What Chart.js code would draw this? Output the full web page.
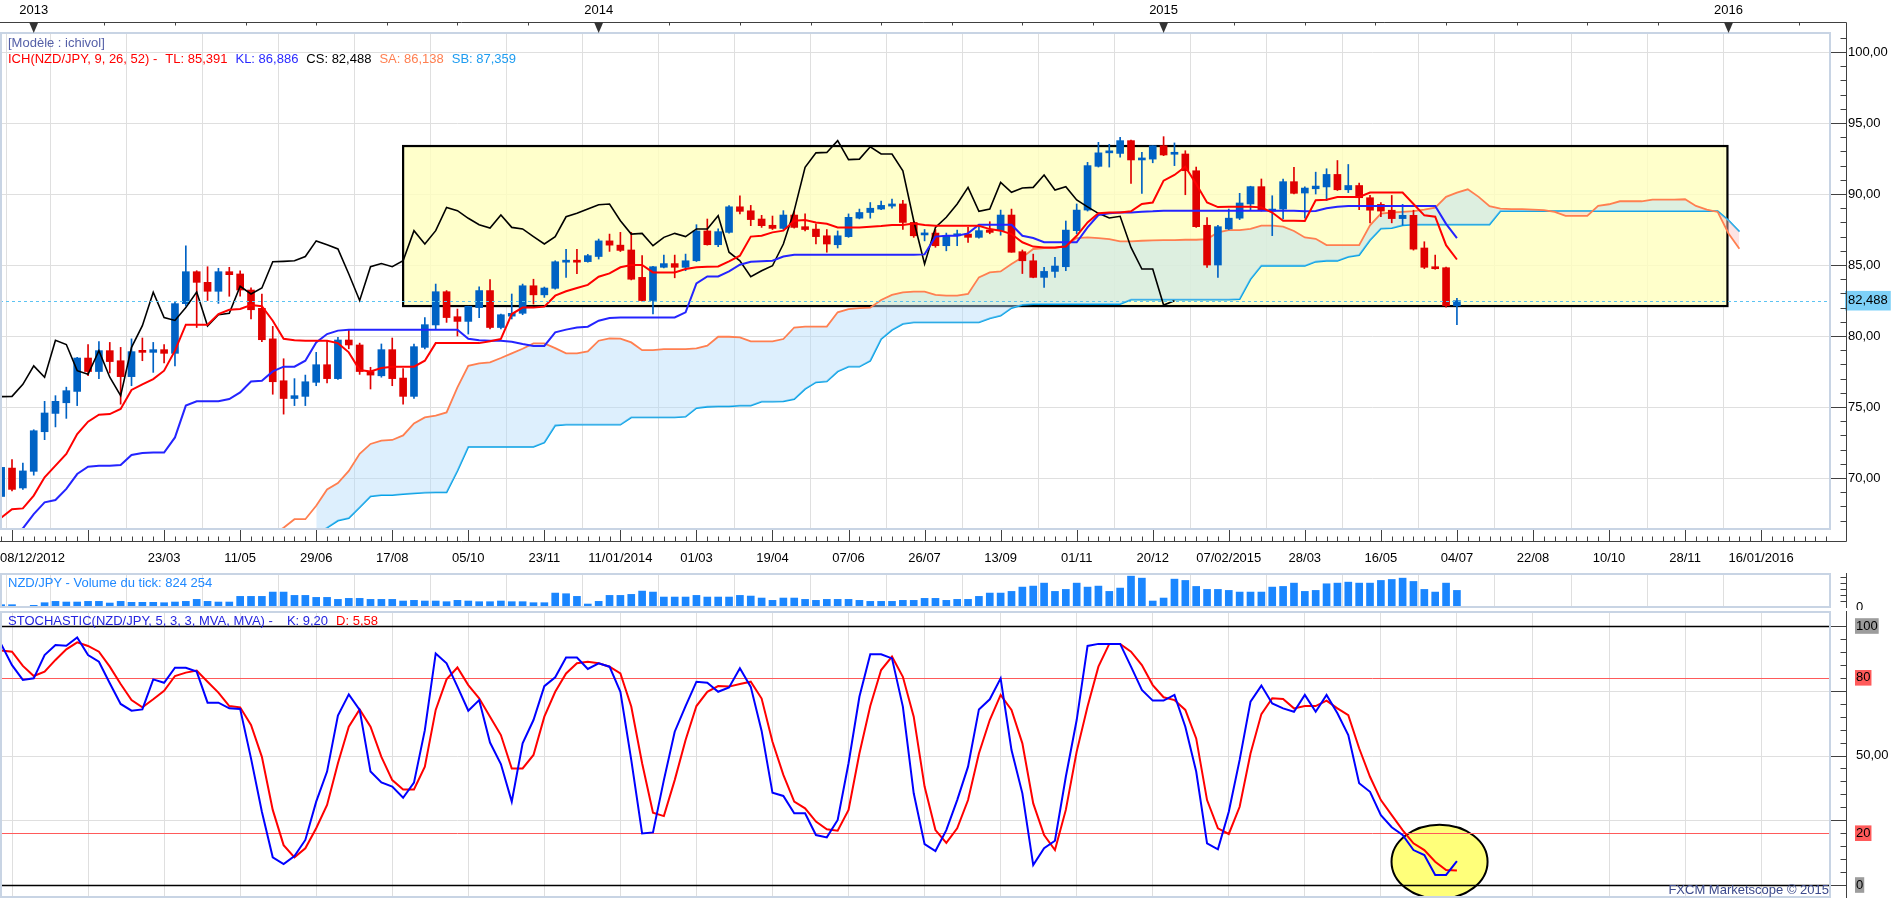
<!DOCTYPE html>
<html lang="fr">
<head>
<meta charset="utf-8">
<title>NZD/JPY hebdo - Ichimoku</title>
<script src="https://cdn.jsdelivr.net/npm/chart.js@4.4.1/dist/chart.umd.min.js"></script>
<style>
  html, body { margin: 0; padding: 0; background: #fff; }
  body { position: relative; width: 1903px; height: 900px; overflow: hidden;
         font-family: 'Liberation Sans', Arial, sans-serif; font-size: 13px; }
  .pane { position: absolute; left: 0; }
  .pane canvas { display: block; }
  .caption { position: absolute; left: 8px; line-height: 16px; white-space: pre; }
  .caption span + span { margin-left: 8px; }
  #copyright { left: auto; right: 74px; color: #3c4a8c; }
</style>
</head>
<body>
  <div class="pane" style="top:0"><canvas id="mainChart" width="1903" height="575"></canvas></div>
  <div class="pane" style="top:566px"><canvas id="volumeChart" width="1903" height="44"></canvas></div>
  <div class="pane" style="top:606px"><canvas id="stochChart" width="1903" height="294"></canvas></div>

  <div class="caption" style="top:35px;color:#5560a8">[Modèle : ichivol]</div>
  <div class="caption" style="top:51px"><span style="color:#ff0000">ICH(NZD/JPY, 9, 26, 52) -</span><span style="color:#ff0000">TL: 85,391</span><span style="color:#2a2aff">KL: 86,886</span><span style="color:#000">CS: 82,488</span><span style="color:#ff7f50">SA: 86,138</span><span style="color:#1e9cf0">SB: 87,359</span></div>
  <div class="caption" style="top:575px;color:#1e88ff">NZD/JPY - Volume du tick: 824 254</div>
  <div class="caption" style="top:613px"><span style="color:#2424e0">STOCHASTIC(NZD/JPY, 5, 3, 3, MVA, MVA) -</span><span style="color:#2424e0;margin-left:14px">K: 9,20</span><span style="color:#ff0000">D: 5,58</span></div>
  <div class="caption" id="copyright" style="top:882px">FXCM Marketscope © 2015</div>

<script>
// weekly bars, week 0 = 15/12/2012 (first grid line); the first candle is the week before
const firstWeek = -1;

const opens = [
  68.70, 70.70, 69.30, 70.47, 73.26, 74.55, 75.30, 76.10, 78.45, 77.50,
  78.97, 78.26, 77.14, 78.90, 78.85, 79.04, 78.78, 82.28, 84.53, 83.78,
  83.15, 84.53, 84.37, 83.24, 81.95, 79.80, 76.85, 75.60, 75.75, 76.74,
  77.98, 77.00, 79.72, 79.37, 77.50, 77.20, 79.04, 77.04, 75.75, 79.20,
  80.78, 83.12, 81.36, 81.03, 82.00, 83.20, 80.60, 81.40, 81.60, 83.54,
  82.90, 83.36, 85.20, 85.30, 85.24, 85.60, 86.70, 86.40, 86.06, 84.13,
  82.50, 84.84, 85.10, 84.84, 85.30, 87.40, 86.43, 87.30, 89.10, 88.82,
  88.24, 87.80, 87.58, 88.52, 87.70, 87.53, 87.06, 86.43, 87.00, 88.30,
  88.70, 88.94, 89.15, 89.30, 88.00, 87.12, 87.25, 86.36, 87.06, 87.18,
  86.95, 87.46, 87.42, 88.52, 85.94, 85.30, 84.13, 84.55, 84.88, 87.42,
  88.87, 91.95, 92.90, 92.86, 93.76, 92.40, 92.46, 93.40, 92.80, 92.82,
  91.64, 87.80, 85.00, 87.54, 88.30, 89.30, 90.52, 88.80, 88.94, 90.87,
  90.07, 90.37, 90.50, 91.38, 90.30, 90.60, 89.74, 89.27, 88.86, 88.27,
  88.50, 86.20, 84.88, 84.81, 82.13
];
const highs = [
  70.90, 71.30, 71.05, 73.40, 75.40, 75.80, 76.40, 78.50, 79.40, 79.60,
  79.55, 79.20, 79.80, 79.86, 79.55, 79.40, 82.37, 86.36, 84.60, 84.88,
  84.77, 84.84, 84.60, 83.40, 82.96, 80.68, 78.40, 77.00, 77.25, 78.85,
  79.70, 79.90, 80.40, 79.50, 77.80, 79.44, 79.86, 77.70, 79.44, 81.30,
  83.66, 83.20, 81.90, 82.10, 83.47, 83.97, 81.55, 82.96, 83.66, 84.00,
  83.45, 85.30, 86.10, 86.10, 85.75, 86.83, 87.18, 87.30, 87.30, 85.66,
  84.90, 85.70, 85.70, 85.77, 87.84, 88.24, 87.55, 89.18, 89.88, 89.20,
  88.50, 88.45, 88.83, 88.83, 88.60, 87.90, 87.50, 87.40, 88.60, 88.94,
  89.40, 89.50, 89.65, 89.55, 88.10, 87.50, 87.50, 87.25, 87.46, 87.65,
  87.70, 88.05, 88.87, 88.94, 86.06, 85.77, 84.84, 85.54, 88.10, 89.30,
  92.23, 93.64, 93.50, 94.00, 93.80, 92.93, 93.40, 94.04, 93.60, 93.05,
  91.90, 88.35, 87.80, 88.94, 90.05, 90.55, 91.06, 89.88, 91.06, 91.88,
  90.50, 91.54, 91.78, 92.36, 92.08, 90.77, 89.90, 89.40, 89.90, 89.27,
  88.86, 86.64, 85.70, 84.85, 82.66
];
const lows = [
  68.40, 69.10, 69.20, 70.20, 72.70, 73.60, 74.20, 75.10, 77.20, 77.00,
  77.40, 75.20, 76.50, 78.26, 77.44, 78.10, 77.90, 82.10, 80.60, 82.50,
  82.30, 82.80, 82.80, 81.20, 79.60, 75.90, 74.50, 75.10, 75.10, 76.50,
  76.70, 76.95, 79.10, 77.30, 76.27, 77.10, 76.50, 75.20, 75.60, 79.10,
  80.50, 80.96, 80.00, 80.14, 81.30, 80.50, 80.50, 81.20, 81.50, 82.25,
  82.72, 83.30, 84.13, 84.40, 85.20, 85.42, 85.96, 85.95, 83.95, 82.45,
  81.55, 84.80, 84.10, 84.60, 85.25, 86.40, 86.30, 87.25, 88.60, 87.77,
  87.65, 87.50, 87.50, 87.60, 87.40, 86.48, 85.90, 86.20, 86.95, 88.25,
  88.30, 88.90, 89.00, 87.50, 86.95, 86.70, 86.25, 86.00, 86.36, 86.60,
  86.90, 87.20, 87.10, 85.90, 84.40, 84.10, 83.43, 84.13, 84.60, 87.20,
  88.80, 91.90, 91.90, 92.60, 90.75, 90.05, 92.20, 92.70, 92.00, 89.95,
  87.65, 84.84, 84.13, 87.50, 88.20, 88.83, 88.80, 87.07, 88.24, 90.00,
  88.30, 90.00, 89.55, 90.25, 90.10, 88.90, 87.97, 88.40, 87.97, 87.80,
  86.05, 84.75, 84.70, 82.03, 80.80
];
const closes = [
  70.75, 69.20, 70.50, 73.33, 74.58, 75.40, 76.15, 78.45, 77.50, 78.97,
  78.20, 77.14, 78.90, 78.85, 79.04, 78.78, 82.28, 84.53, 83.78, 83.15,
  84.53, 84.32, 83.24, 81.85, 79.74, 76.78, 75.60, 75.80, 76.78, 77.98,
  77.00, 79.72, 79.37, 77.50, 77.25, 79.04, 77.00, 75.75, 79.25, 80.80,
  83.12, 81.30, 81.03, 82.09, 83.20, 80.60, 81.50, 81.60, 83.54, 82.90,
  83.38, 85.23, 85.30, 85.20, 85.66, 86.70, 86.40, 86.03, 84.00, 82.50,
  84.88, 85.10, 84.84, 85.30, 87.40, 86.43, 87.35, 89.10, 88.78, 88.20,
  87.77, 87.58, 88.52, 87.65, 87.50, 87.00, 86.48, 87.06, 88.36, 88.70,
  89.00, 89.20, 89.30, 88.00, 87.06, 87.25, 86.36, 87.06, 87.18, 86.95,
  87.42, 87.30, 88.52, 85.90, 85.30, 84.13, 84.55, 84.93, 87.46, 88.87,
  92.00, 92.90, 92.93, 93.76, 92.40, 92.46, 93.40, 92.75, 92.90, 91.64,
  87.70, 85.00, 87.70, 88.30, 89.37, 90.52, 88.87, 88.94, 90.87, 90.05,
  90.42, 90.56, 91.38, 90.30, 90.60, 89.74, 88.86, 88.80, 88.27, 88.50,
  86.12, 84.84, 84.74, 82.13, 82.488
];

// Tenkan (TL), Kijun (KL) and Chikou (CS) start with the candles
const tenkan = [
  67.20, 67.80, 67.86, 68.76, 70.05, 70.87, 71.70, 73.10, 73.97, 74.46,
  74.50, 74.86, 76.20, 76.60, 76.97, 77.56, 78.97, 80.80, 80.80, 80.80,
  81.55, 81.85, 81.90, 82.18, 82.10, 81.08, 79.80, 79.70, 79.67, 79.67,
  79.67, 79.50, 78.85, 77.60, 77.50, 77.75, 77.84, 77.84, 77.84, 78.26,
  79.50, 79.50, 79.50, 79.50, 79.50, 79.63, 79.80, 81.55, 82.00, 82.00,
  82.07, 82.84, 83.15, 83.38, 83.60, 84.18, 84.41, 84.84, 85.00, 85.00,
  84.48, 84.48, 84.48, 84.72, 84.84, 84.88, 84.90, 85.26, 85.66, 87.00,
  87.06, 87.30, 87.42, 88.12, 88.17, 88.00, 87.90, 87.65, 87.65, 87.65,
  87.70, 87.75, 87.82, 87.82, 87.93, 87.82, 87.77, 87.77, 87.77, 87.77,
  87.77, 87.53, 87.42, 87.18, 86.60, 86.30, 86.24, 86.24, 86.30, 87.06,
  88.00, 88.64, 88.70, 88.70, 88.78, 89.30, 89.40, 90.94, 91.34, 91.92,
  90.70, 89.40, 89.08, 89.10, 89.10, 89.10, 89.06, 88.70, 88.12, 88.12,
  88.10, 89.56, 89.60, 89.79, 89.79, 89.79, 90.10, 90.10, 90.10, 90.10,
  89.30, 88.50, 88.40, 86.40, 85.39
];
const kijun = [
  65.60, 66.00, 66.45, 67.46, 68.29, 68.45, 69.23, 70.28, 70.80, 70.87,
  70.87, 70.92, 71.62, 71.76, 71.80, 71.80, 72.86, 75.10, 75.40, 75.40,
  75.40, 75.56, 76.03, 76.80, 76.85, 77.51, 77.84, 77.84, 78.26, 79.55,
  80.14, 80.38, 80.45, 80.45, 80.45, 80.45, 80.45, 80.45, 80.45, 80.45,
  80.45, 80.45, 80.45, 79.80, 79.70, 79.67, 79.67, 79.60, 79.44, 79.30,
  79.30, 80.26, 80.45, 80.60, 80.66, 81.08, 81.27, 81.30, 81.31, 81.31,
  81.31, 81.31, 81.31, 81.67, 83.70, 84.20, 84.20, 84.55, 85.02, 85.23,
  85.26, 85.30, 85.60, 85.73, 85.73, 85.73, 85.73, 85.73, 85.73, 85.73,
  85.73, 85.73, 85.73, 85.73, 85.73, 85.75, 87.00, 87.06, 87.06, 87.23,
  87.84, 87.84, 87.84, 87.84, 87.06, 86.90, 86.60, 86.60, 86.60, 86.60,
  87.65, 88.52, 88.64, 88.70, 88.70, 88.75, 88.78, 88.83, 88.83, 88.83,
  88.83, 88.83, 88.83, 88.83, 88.83, 88.83, 88.83, 88.83, 88.83, 88.83,
  88.78, 88.80, 89.00, 89.10, 89.16, 89.16, 89.16, 89.16, 89.16, 89.16,
  89.16, 89.16, 89.16, 87.90, 86.90
];
const chikou = [
  75.73, 75.75, 76.60, 77.90, 77.10, 79.70, 79.40, 77.56, 77.30, 78.97,
  77.10, 75.80, 79.20, 80.73, 83.08, 81.30, 81.10, 82.00, 83.10, 80.70,
  81.50, 81.60, 83.50, 82.96, 83.38, 85.23, 85.26, 85.30, 85.60, 86.70,
  86.43, 86.13, 84.37, 82.50, 84.88, 85.10, 84.88, 85.30, 87.42, 86.48,
  87.42, 89.06, 88.83, 88.29, 87.84, 87.60, 88.52, 87.65, 87.54, 87.00,
  86.48, 87.00, 88.40, 88.64, 88.94, 89.25, 89.30, 88.12, 87.18, 87.23,
  86.36, 86.95, 87.23, 87.00, 87.54, 87.54, 88.47, 85.90, 85.30, 84.18,
  84.60, 84.95, 86.48, 88.83, 91.88, 92.90, 92.93, 93.76, 92.42, 92.46,
  93.33, 92.82, 92.82, 91.64, 88.12, 85.07, 87.65, 88.36, 89.30, 90.47,
  88.78, 88.94, 90.82, 90.12, 90.42, 90.47, 91.34, 90.28, 90.52, 89.58,
  89.10, 88.64, 88.31, 88.43, 86.24, 84.72, 84.72, 82.18, 82.49
];

// cloud, projected 26 weeks ahead
const senkouAFirstWeek = 24;
const senkouA = [
  66.00, 66.50, 67.10, 67.10, 68.05, 69.20, 69.65, 70.50, 71.70, 72.40,
  72.63, 72.68, 73.00, 73.85, 74.27, 74.40, 74.62, 76.38, 77.90, 78.07,
  78.15, 78.45, 78.78, 79.10, 79.48, 79.48, 79.15, 78.78, 78.78, 78.92,
  79.67, 79.84, 79.82, 79.55, 79.00, 79.00, 79.08, 79.08, 79.08, 79.13,
  79.32, 79.95, 79.95, 79.90, 79.62, 79.62, 79.62, 79.79, 80.60, 80.66,
  80.66, 80.66, 81.67, 81.90, 81.97, 82.00, 82.54, 82.90, 83.08, 83.12,
  83.12, 82.90, 82.84, 82.84, 82.96, 84.13, 84.48, 84.55, 85.07, 85.54,
  86.13, 86.20, 86.20, 86.36, 86.90, 86.95, 86.90, 86.83, 86.67, 86.67,
  86.71, 86.73, 86.76, 86.76, 86.78, 86.78, 86.83, 87.30, 87.46, 87.46,
  87.54, 87.77, 87.77, 87.70, 87.40, 86.94, 86.85, 86.40, 86.40, 86.40,
  86.40, 87.80, 88.62, 88.70, 88.74, 88.79, 88.90, 89.04, 89.80, 90.10,
  90.33, 89.80, 89.14, 88.97, 88.93, 88.93, 88.90, 88.86, 88.74, 88.46,
  88.46, 88.46, 89.16, 89.28, 89.49, 89.49, 89.49, 89.60, 89.60, 89.60,
  89.63, 89.16, 88.90, 88.74, 87.22, 86.14
];
const senkouBFirstWeek = 28;
const senkouB = [
  66.00, 66.50, 67.00, 67.18, 67.93, 68.71, 68.80, 68.80, 68.87, 68.92,
  68.97, 68.99, 68.99, 70.50, 72.20, 72.20, 72.20, 72.20, 72.20, 72.20,
  72.20, 72.50, 73.70, 73.76, 73.76, 73.76, 73.76, 73.76, 73.76, 74.27,
  74.27, 74.27, 74.27, 74.27, 74.32, 74.93, 75.02, 75.05, 75.05, 75.10,
  75.10, 75.38, 75.38, 75.40, 75.56, 76.27, 76.74, 76.80, 77.50, 77.84,
  77.84, 78.26, 79.79, 80.42, 80.85, 80.96, 80.96, 80.96, 80.96, 80.96,
  80.96, 80.96, 81.24, 81.43, 81.97, 82.20, 82.25, 82.25, 82.25, 82.25,
  82.25, 82.25, 82.25, 82.25, 82.25, 82.56, 82.56, 82.56, 82.56, 82.56,
  82.56, 82.56, 82.56, 82.56, 82.56, 82.60, 84.00, 84.95, 84.95, 84.95,
  84.95, 84.95, 85.23, 85.30, 85.30, 85.58, 85.70, 86.75, 87.57, 87.60,
  87.80, 87.85, 87.85, 87.85, 87.85, 87.85, 87.85, 87.85, 87.85, 88.79,
  88.79, 88.79, 88.79, 88.79, 88.79, 88.79, 88.79, 88.79, 88.79, 88.79,
  88.79, 88.79, 88.79, 88.79, 88.79, 88.79, 88.79, 88.79, 88.79, 88.79,
  88.15, 87.36
];

// tick volume, thousands
const volumes = [
  115, 115, 33, 82, 214, 280, 247, 247, 280, 280,
  198, 280, 231, 231, 231, 214, 247, 280, 379, 280,
  247, 247, 528, 528, 528, 742, 742, 577, 577, 478,
  478, 379, 429, 429, 379, 379, 379, 297, 330, 297,
  297, 264, 330, 297, 264, 264, 297, 264, 264, 214,
  214, 692, 660, 528, 148, 280, 577, 577, 627, 791,
  742, 495, 495, 495, 577, 495, 495, 495, 577, 544,
  445, 330, 445, 445, 379, 330, 379, 379, 379, 330,
  280, 280, 280, 330, 330, 429, 429, 330, 379, 379,
  528, 692, 692, 775, 989, 1039, 1187, 775, 874, 1187,
  989, 1039, 775, 940, 1533, 1434, 297, 445, 1385, 1319,
  1022, 874, 874, 824, 742, 742, 742, 989, 1022, 1187,
  775, 824, 1154, 1187, 1236, 1187, 1187, 1319, 1368, 1434,
  1270, 874, 742, 1187, 824
];

const stochK = [
  93.0, 84.9, 79.2, 79.8, 88.8, 92.7, 92.4, 95.6, 88.8, 86.2,
  77.9, 69.9, 67.3, 67.8, 79.4, 78.1, 83.9, 83.9, 82.4, 70.4,
  70.4, 68.2, 68.0, 48.9, 28.3, 10.7, 8.1, 11.2, 17.4, 32.2,
  43.8, 65.4, 73.6, 67.6, 43.8, 39.6, 38.0, 33.7, 39.5, 59.8,
  89.4, 85.6, 76.6, 67.3, 71.4, 55.0, 46.7, 32.2, 54.7, 63.7,
  76.8, 80.2, 87.8, 87.8, 83.4, 85.6, 84.3, 74.6, 48.3, 19.9,
  20.3, 40.5, 59.2, 69.1, 78.5, 78.1, 74.6, 76.3, 83.7, 76.5,
  59.5, 35.6, 34.4, 27.7, 27.7, 19.3, 18.4, 25.1, 47.0, 72.7,
  89.1, 89.1, 87.5, 68.9, 35.4, 15.8, 13.1, 21.2, 32.8, 45.7,
  67.8, 71.7, 79.8, 52.1, 35.4, 7.7, 14.2, 17.1, 41.8, 63.7,
  92.3, 93.1, 93.1, 93.1, 84.3, 75.3, 71.2, 71.2, 73.4, 61.1,
  43.8, 16.1, 13.8, 28.3, 48.3, 70.8, 77.0, 70.1, 68.2, 66.9,
  73.4, 66.9, 73.4, 66.3, 57.9, 39.3, 36.0, 27.0, 22.3, 19.3,
  13.5, 11.6, 3.9, 3.9, 9.2
];
const stochD = [
  90.5, 90.1, 84.6, 80.7, 82.4, 86.9, 91.0, 93.7, 92.3, 90.1,
  84.3, 77.6, 71.4, 68.6, 71.7, 75.0, 80.7, 82.0, 82.8, 78.5,
  74.3, 69.1, 68.6, 61.8, 49.5, 29.0, 15.4, 10.7, 14.2, 21.9,
  30.9, 47.0, 61.1, 67.8, 61.1, 49.5, 40.5, 36.9, 36.9, 45.7,
  67.6, 79.4, 84.0, 77.2, 72.1, 65.0, 57.9, 45.0, 45.0, 50.2,
  65.0, 74.6, 81.7, 85.6, 86.2, 85.6, 84.3, 81.7, 68.9, 47.0,
  27.9, 26.6, 40.5, 56.0, 69.1, 74.6, 76.8, 76.6, 77.6, 78.5,
  72.0, 55.3, 42.5, 32.2, 29.6, 24.5, 21.5, 21.0, 29.0, 50.8,
  69.1, 83.0, 88.2, 80.4, 65.0, 38.0, 21.2, 16.3, 21.9, 32.8,
  50.8, 63.7, 73.4, 67.6, 54.7, 31.5, 19.3, 13.5, 29.0, 51.5,
  68.9, 84.3, 93.1, 93.1, 90.1, 84.9, 77.2, 72.5, 71.4, 67.6,
  56.6, 32.8, 21.9, 19.7, 30.2, 50.8, 66.0, 72.1, 71.8, 68.2,
  69.1, 69.1, 71.2, 68.2, 65.6, 52.8, 41.8, 32.8, 27.0, 21.2,
  16.1, 13.5, 9.0, 5.8, 5.58
];

// axes: one date label every 7 weeks starting at week 0
const firstDateLabel = '08/12/2012';
const dateLabels = ['', '', '23/03', '11/05', '29/06', '17/08', '05/10', '23/11', '11/01/2014',
  '01/03', '19/04', '07/06', '26/07', '13/09', '01/11', '20/12', '07/02/2015', '28/03',
  '16/05', '04/07', '22/08', '10/10', '28/11', '16/01/2016'];
const yearLabels = ['2013', '2014', '2015', '2016'];
const yearWeeks = [2, 54, 106, 158];
const priceTicks = [70, 75, 80, 85, 90, 95, 100];
const lastClose = 82.488;
const stochTicks = [0, 20, 50, 80, 100];
const stochBands = [20, 80];
const stochGrid = [25, 50, 75];

// hand-drawn marks on the original screenshot
const zoneWeeks = [36, 157.9];
const zonePrices = [82.11, 93.38];
const focusCenter = [131.4, 9];
const focusRadius = [4.42, 14.3];

const X_MIN = -1.105, X_MAX = 167.34;
const PRICE_MIN = 66.41, PRICE_MAX = 101.34;
const GRID = '#dfdfdf';
const PANEL = '#c8d4e4';
const AXIS = '#404040';
const UP = '#0062c4';
const DOWN = '#e00000';

Chart.defaults.font.family = "'Liberation Sans', Arial, sans-serif";
Chart.defaults.font.size = 13;
Chart.defaults.color = '#000';
Chart.defaults.animation = false;

const series = (values, start) => values.map((v, i) => ({ x: start + i, y: v }));
const dateWeeks = dateLabels.map((_, i) => i * 7);
const comma = (v, digits) => v.toFixed(digits).replace('.', ',');

class IchimokuBoard {
    constructor() {
        this.main = this.buildMain();
        this.volume = this.buildVolume();
        this.stoch = this.buildStochastic();
    }

    weekAxis(extra) {
        return Object.assign({
            type: 'linear',
            min: X_MIN,
            max: X_MAX,
            offset: false,
            border: { display: false },
            afterBuildTicks: axis => {
                axis.ticks = [X_MIN, ...dateWeeks, X_MAX].map(value => ({ value }));
            },
            grid: {
                drawTicks: false,
                color: ctx => (ctx.tick && ctx.tick.value > X_MIN && ctx.tick.value < X_MAX) ? GRID : 'rgba(0,0,0,0)'
            }
        }, extra);
    }

    rightAxis(extra) {
        return Object.assign({
            position: 'right',
            border: { display: false },
            afterFit: axis => {
                axis.width = 73;
                axis.paddingTop = 0;
                axis.paddingBottom = 0;
            }
        }, extra);
    }

    // panel frame + right axis line with its small ticks
    drawPanelFrame(chart, minorValues, majorValues) {
        const { ctx, chartArea: a, scales: { y } } = chart;
        const axisX = a.right + 16.5;
        ctx.save();
        ctx.strokeStyle = PANEL;
        ctx.lineWidth = 2;
        ctx.strokeRect(a.left + 1, a.top, a.width - 1, a.height);
        ctx.strokeStyle = AXIS;
        ctx.lineWidth = 1;
        ctx.beginPath();
        ctx.moveTo(axisX, a.top - 1);
        ctx.lineTo(axisX, a.bottom + 1);
        minorValues.forEach(v => {
            const py = Math.round(y.getPixelForValue(v)) + 0.5;
            ctx.moveTo(axisX, py);
            ctx.lineTo(axisX - 6, py);
        });
        majorValues.forEach(v => {
            const py = Math.round(y.getPixelForValue(v)) + 0.5;
            ctx.moveTo(axisX, py);
            ctx.lineTo(a.right + 1, py);
        });
        ctx.stroke();
        ctx.restore();
    }

    buildMain() {
        const candleColors = closes.map((c, i) => c >= opens[i] ? UP : DOWN);
        const bodies = opens.map((o, i) => ({ x: firstWeek + i, y: [o, closes[i]] }));
        const wicks = lows.map((l, i) => ({ x: firstWeek + i, y: [l, highs[i]] }));
        const board = this;

        const decor = {
            id: 'ichimokuDecor',
            beforeDatasetsDraw(chart) {
                const { ctx, chartArea: a, scales: { x, y } } = chart;
                const left = x.getPixelForValue(zoneWeeks[0]);
                const right = x.getPixelForValue(zoneWeeks[1]);
                const top = y.getPixelForValue(zonePrices[1]);
                const bottom = y.getPixelForValue(zonePrices[0]);
                ctx.save();
                ctx.beginPath();
                ctx.rect(a.left, a.top, a.width, a.height);
                ctx.clip();
                ctx.fillStyle = 'rgba(255,255,190,0.8)';
                ctx.fillRect(left, top, right - left, bottom - top);
                ctx.strokeStyle = '#000';
                ctx.lineWidth = 2.2;
                ctx.strokeRect(left, top, right - left, bottom - top);
                ctx.restore();
            },
            afterDatasetsDraw(chart) {
                const { ctx, chartArea: a, scales: { y } } = chart;
                const py = Math.round(y.getPixelForValue(lastClose)) + 0.5;
                ctx.save();
                ctx.strokeStyle = '#5cc3f2';
                ctx.lineWidth = 1;
                ctx.setLineDash([3, 3]);
                ctx.beginPath();
                ctx.moveTo(a.left, py);
                ctx.lineTo(a.right, py);
                ctx.stroke();
                ctx.restore();
            },
            afterDraw(chart) {
                const { ctx, chartArea: a, scales: { x } } = chart;
                const minor = [], major = [];
                for (let v = Math.ceil(PRICE_MIN); v <= PRICE_MAX; v++) (v % 5 === 0 ? major : minor).push(v);
                board.drawPanelFrame(chart, minor, major);

                const axisX = a.right + 16.5;
                const topY = a.top - 10.5;
                const rowY = a.bottom + 12.5;
                ctx.save();
                ctx.strokeStyle = AXIS;
                ctx.lineWidth = 1;
                ctx.beginPath();
                // year ruler at the top
                ctx.moveTo(0, topY);
                ctx.lineTo(axisX, topY);
                ctx.moveTo(axisX, topY);
                ctx.lineTo(axisX, a.top);
                for (let w = yearWeeks[0] - 6.5; w <= X_MAX; w += 6.5) {
                    const px = Math.round(x.getPixelForValue(w)) + 0.5;
                    if (px < 0) continue;
                    ctx.moveTo(px, topY);
                    ctx.lineTo(px, topY + 3);
                }
                // weekly ruler under the price panel
                ctx.moveTo(0, rowY);
                ctx.lineTo(axisX, rowY);
                ctx.moveTo(axisX, a.bottom);
                ctx.lineTo(axisX, rowY);
                for (let w = Math.ceil(X_MIN); w <= X_MAX; w++) {
                    const px = Math.round(x.getPixelForValue(w)) + 0.5;
                    ctx.moveTo(px, rowY);
                    ctx.lineTo(px, w % 7 === 0 ? a.bottom + 1 : rowY - 5);
                }
                ctx.stroke();
                ctx.fillStyle = '#333';
                yearWeeks.forEach(w => {
                    const px = x.getPixelForValue(w);
                    ctx.beginPath();
                    ctx.moveTo(px - 4.5, topY);
                    ctx.lineTo(px + 4.5, topY);
                    ctx.lineTo(px, a.top);
                    ctx.closePath();
                    ctx.fill();
                });
                ctx.restore();
            }
        };

        return new Chart(document.getElementById('mainChart'), {
            type: 'bar',
            data: {
                datasets: [
                    { type: 'line', label: 'TL', data: series(tenkan, firstWeek), borderColor: '#ff0000', borderWidth: 2, pointRadius: 0, order: 0 },
                    { type: 'line', label: 'KL', data: series(kijun, firstWeek), borderColor: '#2424ff', borderWidth: 2, pointRadius: 0, order: 0 },
                    { type: 'line', label: 'CS', data: series(chikou, firstWeek), borderColor: '#000000', borderWidth: 1.6, pointRadius: 0, order: 0 },
                    { type: 'bar', label: 'bodies', data: bodies, backgroundColor: candleColors, barThickness: 7, minBarLength: 2, grouped: false, order: 1 },
                    { type: 'bar', label: 'wicks', data: wicks, backgroundColor: candleColors, barThickness: 1, grouped: false, order: 2 },
                    {
                        type: 'line', label: 'SA', data: series(senkouA, senkouAFirstWeek), borderColor: '#ff7f50', borderWidth: 1.8, pointRadius: 0, order: 3,
                        fill: { target: 6, above: 'rgba(180,220,250,0.45)', below: 'rgba(250,195,195,0.45)' }
                    },
                    { type: 'line', label: 'SB', data: series(senkouB, senkouBFirstWeek), borderColor: '#00a2e8', borderWidth: 1.8, pointRadius: 0, order: 3 }
                ]
            },
            options: {
                responsive: false,
                events: [],
                layout: { padding: 0 },
                plugins: { legend: { display: false }, tooltip: { enabled: false } },
                scales: {
                    x: this.weekAxis({
                        afterFit: axis => { axis.height = 46; axis.paddingLeft = 0; axis.paddingRight = 0; },
                        ticks: {
                            autoSkip: false, maxRotation: 0, align: 'inner', padding: 22,
                            callback: (v, i) => i === 0 ? firstDateLabel : (dateLabels[i - 1] || '')
                        }
                    }),
                    xTop: {
                        type: 'linear', position: 'top', min: X_MIN, max: X_MAX, offset: false,
                        grid: { display: false, drawTicks: false }, border: { display: false },
                        afterBuildTicks: axis => { axis.ticks = yearWeeks.map(value => ({ value })); },
                        afterFit: axis => { axis.height = 33; axis.paddingLeft = 0; axis.paddingRight = 0; },
                        ticks: { autoSkip: false, maxRotation: 0, padding: 15, callback: (v, i) => yearLabels[i] }
                    },
                    y: this.rightAxis({
                        min: PRICE_MIN,
                        max: PRICE_MAX,
                        afterBuildTicks: axis => { axis.ticks = [...priceTicks, lastClose].map(value => ({ value })); },
                        grid: { drawTicks: false, color: ctx => (ctx.tick && ctx.tick.value === lastClose) ? 'rgba(0,0,0,0)' : GRID },
                        ticks: {
                            autoSkip: false, padding: 18,
                            callback: v => v === lastClose ? comma(v, 3) : comma(v, 2),
                            showLabelBackdrop: ctx => ctx.tick && ctx.tick.value === lastClose,
                            backdropColor: '#7dd0f8',
                            backdropPadding: { top: 2, bottom: 2, left: 3, right: 3 }
                        }
                    })
                }
            },
            plugins: [decor]
        });
    }

    buildVolume() {
        const board = this;
        return new Chart(document.getElementById('volumeChart'), {
            type: 'bar',
            data: {
                datasets: [{ label: 'Volume', data: series(volumes, firstWeek), backgroundColor: '#1a86ff', barThickness: 7, grouped: false }]
            },
            options: {
                responsive: false,
                events: [],
                layout: { padding: { top: 8, bottom: 3 } },
                plugins: { legend: { display: false }, tooltip: { enabled: false } },
                scales: {
                    x: this.weekAxis({
                        afterFit: axis => { axis.height = 0; axis.paddingLeft = 0; axis.paddingRight = 0; },
                        ticks: { display: false }
                    }),
                    y: this.rightAxis({
                        min: 0,
                        max: 1640,
                        afterBuildTicks: axis => { axis.ticks = [{ value: 0 }]; },
                        grid: { display: false },
                        ticks: { padding: 18, callback: () => '0' }
                    })
                }
            },
            plugins: [{
                id: 'volumeFrame',
                afterDraw: chart => board.drawPanelFrame(chart, [300, 600, 900, 1200, 1500], [])
            }]
        });
    }

    buildStochastic() {
        const board = this;
        const levels = {
            id: 'stochLevels',
            beforeDatasetsDraw(chart) {
                const { ctx, chartArea: a, scales: { x, y } } = chart;
                const cx = x.getPixelForValue(focusCenter[0]);
                const cy = y.getPixelForValue(focusCenter[1]);
                const rx = x.getPixelForValue(focusCenter[0] + focusRadius[0]) - cx;
                const ry = cy - y.getPixelForValue(focusCenter[1] + focusRadius[1]);
                const hline = (v, color, width) => {
                    const py = Math.round(y.getPixelForValue(v)) + 0.5;
                    ctx.strokeStyle = color;
                    ctx.lineWidth = width;
                    ctx.beginPath();
                    ctx.moveTo(a.left, py);
                    ctx.lineTo(a.right, py);
                    ctx.stroke();
                };
                ctx.save();
                ctx.beginPath();
                ctx.rect(a.left, a.top, a.width, a.height);
                ctx.clip();
                stochGrid.forEach(v => hline(v, GRID, 1));
                ctx.beginPath();
                ctx.ellipse(cx, cy, rx, ry, 0, 0, Math.PI * 2);
                ctx.fillStyle = '#ffff7a';
                ctx.fill();
                ctx.strokeStyle = '#000';
                ctx.lineWidth = 2;
                ctx.stroke();
                stochBands.forEach(v => hline(v, '#ff5a5a', 1));
                hline(0, '#000', 1.5);
                hline(100, '#000', 1.5);
                ctx.restore();
            },
            afterDraw(chart) {
                const minor = [];
                for (let v = 5; v < 100; v += 5) if (v % 25 !== 0) minor.push(v);
                board.drawPanelFrame(chart, minor, [0, 25, 50, 75, 100]);
            }
        };
        const boxColor = v => v === 50 ? 'rgba(0,0,0,0)' : (v === 20 || v === 80 ? '#ff5a5a' : '#9c9c9c');

        return new Chart(document.getElementById('stochChart'), {
            type: 'line',
            data: {
                datasets: [
                    { label: 'K', data: series(stochK, firstWeek), borderColor: '#0000ff', borderWidth: 2, pointRadius: 0 },
                    { label: 'D', data: series(stochD, firstWeek), borderColor: '#ff0000', borderWidth: 2, pointRadius: 0 }
                ]
            },
            options: {
                responsive: false,
                events: [],
                layout: { padding: { top: 6, bottom: 3 } },
                plugins: { legend: { display: false }, tooltip: { enabled: false } },
                scales: {
                    x: this.weekAxis({
                        afterFit: axis => { axis.height = 0; axis.paddingLeft = 0; axis.paddingRight = 0; },
                        ticks: { display: false }
                    }),
                    y: this.rightAxis({
                        min: -4.63,
                        max: 105.41,
                        afterBuildTicks: axis => { axis.ticks = stochTicks.map(value => ({ value })); },
                        grid: { display: false },
                        ticks: {
                            autoSkip: false, padding: 18,
                            callback: v => v === 50 ? comma(v, 2) : String(v),
                            showLabelBackdrop: true,
                            backdropColor: ctx => boxColor(ctx.tick ? ctx.tick.value : 50),
                            backdropPadding: { top: 0, bottom: 0, left: 1, right: 1 }
                        }
                    })
                }
            },
            plugins: [levels]
        });
    }
}

new IchimokuBoard();
</script>
</body>
</html>
